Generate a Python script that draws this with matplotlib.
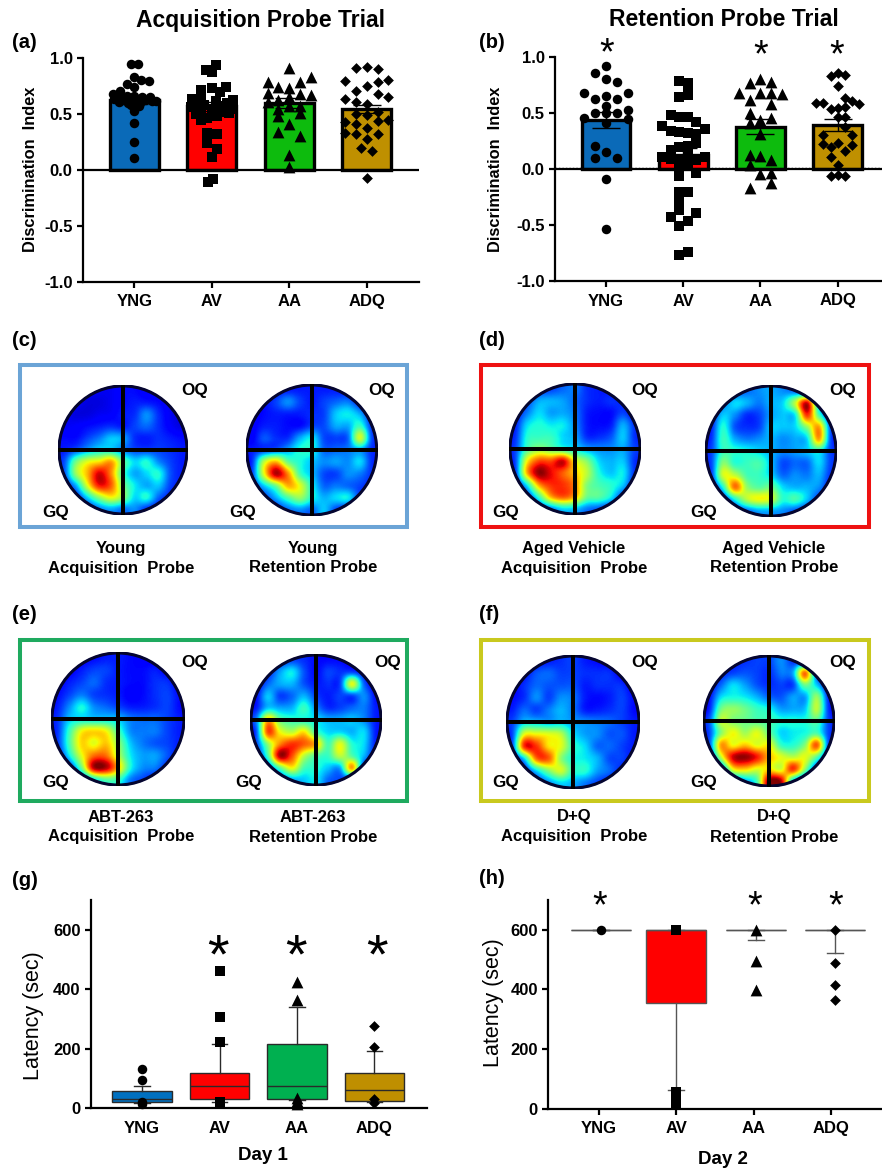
"""Morris water maze figure: probe-trial bars, heat maps and latency box plots."""

import numpy as np
import matplotlib
matplotlib.use("Agg")
import matplotlib.pyplot as plt
from matplotlib.patches import Circle, Rectangle

W, H = 882, 1171
plt.rcParams["font.family"] = ["Liberation Sans", "DejaVu Sans"]

GROUPS = ["YNG", "AV", "AA", "ADQ"]
MARKERS = ["o", "s", "^", "D"]
MARKER_S = [47, 49, 72, 30]

# panel (a) discrimination index: values and swarm offsets (category units)
A_YNG = [.95, .95, .83, .81, .80, .77, .74, .71, .68, .67, .66, .66, .65, .65, .64, .64, .63, .63, .62, .62, .61, .60, .60, .58, .57, .53, .42, .255, .11]
A_YNG_DX = [-.04, .05, 0, .09, .19, -.1, 0, -.19, -.28, -.2, -.1, 0, .1, .2, -.26, -.13, .05, .14, .28, .23, -.2, -.08, .08, -.04, .06, 0, 0, 0, 0]
A_AV = [.94, .895, .88, .74, .73, .72, .70, .64, .63, .66, .62, .60, .60, .58, .57, .56, .55, .55, .53, .52, .51, .50, .48, .47, .45, .335, .32, .245, .19, .12, -.085, -.11]
A_AV_DX = [.06, -.07, 0, .19, 0, -.14, .1, -.26, .28, -.14, .06, -.2, .2, -.1, .1, -.27, .28, 0, -.14, .14, .22, -.2, .07, -.06, -.14, -.06, .07, -.06, .07, 0, .02, -.05]
A_AA = [.91, .83, .79, .785, .74, .73, .69, .68, .67, .65, .63, .61, .57, .57, .55, .51, .48, .41, .34, .30, .135, .03]
A_AA_DX = [0, .28, .14, -.28, -.14, 0, -.28, .14, .28, 0, -.14, -.28, 0, .14, -.14, .14, -.14, 0, -.14, .14, 0, 0]
A_ADQ = [.925, .91, .90, .80, .805, .79, .755, .71, .68, .64, .65, .61, .59, .52, .50, .49, .43, .45, .44, .41, .38, .33, .32, .32, .28, .195, .17, -.07]
A_ADQ_DX = [0, -.14, .14, -.28, .27, .14, 0, -.14, .14, -.28, .27, -.14, 0, .14, -.14, 0, -.28, .27, .14, -.14, 0, -.28, -.14, .14, 0, -.07, .07, 0]
A_MEAN = [.625, .57, .60, .545]
A_SEM = [.035, .04, .045, .035]

# panel (b)
B_YNG = [.92, .86, .81, .78, .68, .68, .655, .625, .625, .565, .53, .50, .50, .50, .455, .445, .41, .21, .15, .10, .10, -.09, -.535]
B_YNG_DX = [0, -.14, 0, .14, -.28, .28, 0, -.14, .14, 0, .28, -.14, .14, 0, -.28, .28, 0, -.14, 0, .14, -.14, 0, 0]
B_AV = [.79, .77, .70, .645, .665, .485, .47, .465, .42, .39, .36, .34, .33, .32, .31, .23, .20, .17, .21, .11, .11, .13, .08, .09, .06, -.01, .04, -.035, -.06, -.2, -.2, -.275, -.365, -.43, -.395, -.46, -.51, -.765, -.745]
B_AV_DX = [-.06, .06, .06, -.06, .06, -.16, -.06, .06, .17, -.28, .28, -.16, -.06, .06, .17, .17, -.06, -.16, .06, -.28, .28, .06, .17, -.16, -.06, -.06, .06, .17, -.06, -.06, .06, -.06, -.06, -.16, .17, .06, -.06, -.06, .06]
B_AA = [.81, .77, .775, .68, .68, .68, .675, .62, .585, .505, .455, .44, .41, .315, .13, .12, .08, .04, -.045, -.03, -.125, -.17]
B_AA_DX = [0, -.14, .14, -.28, 0, .14, .28, -.14, .14, -.14, .14, 0, -.14, 0, -.14, 0, .14, -.14, 0, .14, .14, -.14]
B_ADQ = [.86, .835, .84, .745, .64, .59, .59, .605, .585, .555, .535, .545, .465, .465, .375, .305, .305, .225, .20, .23, .215, .165, .105, .04, -.05, -.065, -.06]
B_ADQ_DX = [0, -.09, .09, 0, .09, -.28, -.19, .18, .27, .09, -.09, 0, 0, .09, .09, -.19, .18, -.19, -.09, 0, .18, .09, -.09, 0, 0, -.09, .09]
B_MEAN = [.44, .13, .38, .395]
B_SEM = [.075, .06, .065, .055]

# panels (g), (h): latency box statistics
G_Q1 = [22, 30, 32, 26]
G_MED = [32, 74, 74, 60]
G_Q3 = [59, 120, 216, 118]
G_LO = [19, 22, 28, 22]
G_HI = [76, 216, 342, 194]
G_OUT = [[131, 95, 15, 20], [460, 308, 222, 22, 13], [425, 364, 33, 24, 15], [278, 205, 30, 19]]
H_Q1 = [600, 356, 600, 600]
H_MED = [600, 600, 600, 600]
H_Q3 = [600, 600, 600, 600]
H_LO = [600, 63, 566, 523]
H_HI = [600, 600, 600, 600]
H_OUT = [[600], [600, 55, 42, 30, 20, 12], [600, 497, 398], [600, 488, 415, 363]]

# heat maps: jet level (percent) on a coarse grid, read row by row from the top
C1 = [[5, 5, 5, 5, 5, 8, 8, 5, 5, 5, 5],
      [5, 5, 3, 3, 5, 8, 10, 10, 8, 5, 5],
      [5, 3, 3, 5, 6, 10, 12, 22, 12, 5, 3],
      [5, 6, 8, 10, 12, 10, 14, 18, 12, 6, 3],
      [8, 8, 14, 20, 28, 25, 12, 10, 12, 10, 8],
      [10, 16, 25, 32, 32, 22, 15, 14, 14, 12, 10],
      [15, 45, 60, 65, 72, 45, 30, 35, 22, 14, 10],
      [15, 50, 70, 92, 75, 40, 25, 30, 35, 16, 10],
      [10, 25, 60, 88, 80, 48, 32, 25, 28, 14, 10],
      [5, 10, 30, 50, 62, 50, 30, 35, 18, 10, 5],
      [5, 5, 10, 20, 25, 20, 22, 12, 8, 5, 5]]
C2 = [[5, 5, 8, 10, 10, 10, 10, 10, 8, 5, 5],
      [5, 8, 14, 22, 14, 10, 14, 18, 20, 10, 5],
      [5, 8, 10, 10, 10, 12, 14, 28, 32, 25, 8],
      [6, 10, 10, 8, 8, 14, 15, 25, 25, 38, 12],
      [6, 16, 12, 12, 25, 32, 15, 14, 18, 58, 15],
      [10, 14, 18, 25, 35, 35, 18, 18, 20, 25, 12],
      [12, 55, 70, 45, 35, 28, 22, 24, 22, 30, 12],
      [14, 60, 95, 75, 40, 28, 15, 14, 22, 20, 12],
      [12, 28, 45, 70, 60, 35, 18, 20, 18, 14, 10],
      [5, 12, 25, 40, 50, 35, 26, 30, 32, 12, 5],
      [5, 5, 10, 18, 22, 18, 28, 14, 8, 5, 5]]
D1 = [[5, 8, 12, 14, 18, 20, 12, 10, 8, 5, 5],
      [6, 14, 25, 26, 24, 18, 12, 10, 12, 10, 5],
      [8, 20, 30, 24, 25, 20, 10, 8, 8, 14, 6],
      [10, 30, 35, 32, 32, 22, 10, 8, 10, 25, 12],
      [12, 35, 38, 38, 30, 25, 12, 12, 16, 28, 12],
      [14, 40, 50, 45, 38, 32, 25, 22, 22, 25, 14],
      [14, 62, 82, 82, 92, 62, 48, 30, 26, 28, 12],
      [12, 70, 98, 90, 80, 68, 55, 35, 28, 32, 12],
      [8, 32, 72, 85, 85, 75, 48, 40, 36, 28, 8],
      [5, 12, 38, 70, 80, 70, 45, 42, 32, 12, 5],
      [5, 5, 12, 20, 30, 28, 20, 16, 10, 5, 5]]
D2 = [[5, 8, 14, 18, 22, 25, 22, 18, 10, 5, 5],
      [6, 18, 30, 26, 20, 26, 30, 55, 92, 25, 5],
      [8, 28, 22, 12, 14, 24, 28, 32, 85, 40, 8],
      [10, 35, 16, 12, 14, 28, 28, 30, 50, 72, 15],
      [12, 38, 25, 20, 22, 26, 22, 25, 30, 72, 15],
      [14, 38, 36, 34, 30, 26, 22, 24, 28, 35, 14],
      [14, 48, 36, 38, 40, 28, 15, 18, 18, 30, 14],
      [12, 58, 55, 40, 38, 30, 18, 22, 20, 26, 12],
      [8, 35, 78, 50, 42, 45, 30, 26, 26, 22, 8],
      [5, 12, 35, 55, 62, 58, 36, 40, 28, 12, 5],
      [5, 5, 12, 18, 25, 25, 22, 16, 10, 5, 5]]
E1 = [[5, 5, 6, 8, 10, 10, 8, 6, 5, 5, 5],
      [5, 6, 10, 14, 14, 10, 8, 8, 10, 6, 5],
      [6, 10, 14, 18, 12, 10, 8, 8, 12, 12, 5],
      [8, 14, 20, 14, 12, 10, 6, 8, 12, 14, 8],
      [10, 22, 34, 22, 18, 14, 10, 10, 12, 14, 8],
      [12, 28, 32, 30, 30, 28, 20, 18, 18, 14, 10],
      [12, 38, 62, 66, 62, 40, 22, 20, 20, 14, 10],
      [12, 40, 66, 60, 68, 50, 28, 20, 16, 14, 10],
      [8, 32, 60, 78, 78, 55, 32, 24, 24, 16, 8],
      [5, 12, 45, 95, 95, 68, 34, 22, 20, 10, 5],
      [5, 5, 12, 30, 42, 38, 20, 14, 8, 5, 5]]
E2 = [[5, 6, 10, 14, 12, 8, 8, 8, 6, 5, 5],
      [5, 10, 24, 32, 16, 8, 14, 12, 14, 8, 5],
      [6, 18, 25, 26, 16, 10, 12, 14, 60, 18, 5],
      [8, 28, 14, 18, 26, 14, 10, 14, 14, 22, 8],
      [10, 28, 25, 26, 38, 22, 12, 14, 18, 20, 10],
      [20, 70, 45, 38, 36, 32, 26, 26, 28, 22, 10],
      [15, 82, 62, 55, 65, 40, 30, 30, 26, 30, 10],
      [14, 50, 75, 85, 80, 70, 40, 60, 36, 30, 10],
      [8, 40, 96, 82, 55, 42, 38, 55, 42, 26, 8],
      [5, 15, 42, 62, 40, 36, 28, 25, 72, 12, 5],
      [5, 5, 14, 24, 28, 32, 18, 14, 8, 5, 5]]
F1 = [[5, 5, 8, 10, 12, 14, 10, 8, 6, 5, 5],
      [5, 8, 16, 18, 14, 14, 12, 12, 12, 6, 5],
      [6, 12, 18, 16, 16, 16, 10, 12, 12, 12, 5],
      [8, 12, 22, 14, 22, 20, 10, 8, 10, 14, 8],
      [10, 18, 14, 20, 26, 20, 10, 10, 12, 14, 8],
      [14, 28, 28, 25, 28, 24, 22, 20, 18, 14, 10],
      [14, 60, 62, 60, 55, 32, 24, 22, 16, 16, 10],
      [14, 85, 85, 65, 60, 38, 30, 18, 18, 14, 10],
      [8, 30, 78, 80, 50, 35, 32, 26, 15, 14, 8],
      [5, 10, 30, 48, 58, 38, 36, 24, 18, 10, 5],
      [5, 5, 12, 22, 30, 26, 20, 14, 8, 5, 5]]
F2 = [[5, 6, 10, 12, 14, 14, 22, 12, 8, 5, 5],
      [5, 10, 14, 16, 14, 12, 20, 25, 78, 14, 5],
      [6, 18, 30, 24, 16, 12, 14, 14, 45, 28, 5],
      [8, 30, 34, 32, 26, 18, 16, 24, 24, 50, 10],
      [10, 45, 50, 45, 38, 34, 24, 25, 28, 55, 12],
      [16, 55, 48, 45, 42, 40, 35, 35, 35, 42, 14],
      [14, 48, 62, 52, 60, 45, 30, 32, 34, 40, 14],
      [14, 72, 62, 68, 60, 62, 38, 36, 48, 80, 14],
      [8, 55, 92, 98, 88, 70, 60, 55, 60, 42, 8],
      [5, 15, 62, 68, 60, 65, 58, 85, 50, 12, 5],
      [5, 5, 14, 25, 40, 98, 95, 30, 8, 5, 5]]

BAR_COLORS = ["#0a6ab8", "#ff0000", "#0dbb0d", "#bf9000"]
BOX_COLORS = ["#0070c0", "#ff0000", "#00b050", "#bf8f00"]

fig = plt.figure(figsize=(W / 100, H / 100), dpi=100, facecolor="white")

# overlay in pixel coordinates, for frames and free text
page = fig.add_axes([0, 0, 1, 1], zorder=5)
page.set_xlim(0, W)
page.set_ylim(H, 0)
page.axis("off")
page.patch.set_alpha(0)


def label(x, y, s, size=12, weight="bold", **kw):
    page.text(x, y, s, fontsize=size, fontweight=weight, ha="center", va="center", **kw)


def chart_axes(left, right, top, bottom, x0, x3, ylim):
    ax = fig.add_axes([left / W, 1 - bottom / H, (right - left) / W, (bottom - top) / H])
    step = (x3 - x0) / 3
    ax.set_xlim((left - x0) / step, (right - x0) / step)
    ax.set_ylim(*ylim)
    for s in ("top", "right"):
        ax.spines[s].set_visible(False)
    for s in ("left", "bottom"):
        ax.spines[s].set_linewidth(1.6)
    ax.tick_params(width=1.6, length=4.5)
    ax.patch.set_alpha(0)
    ax.set_xticks(range(4))
    ax.set_xticklabels(GROUPS, fontsize=12, fontweight="bold")
    ax.tick_params(axis="x", pad=4.5)
    ax.tick_params(axis="y", pad=3, labelsize=12)
    return ax


def bar_panel(ax, means, sems, swarms):
    ax.set_yticks([-1, -.5, 0, .5, 1])
    ax.set_yticklabels(["-1.0", "-0.5", "0.0", "0.5", "1.0"], fontweight="bold", fontsize=12)
    ax.bar(range(4), means, width=.63, color=BAR_COLORS, edgecolor="black", linewidth=2.4, zorder=2)
    ax.errorbar(range(4), means, yerr=sems, fmt="none", ecolor="black", elinewidth=1,
                capsize=10, capthick=1, zorder=3)
    for i, (vals, dx) in enumerate(swarms):
        ax.scatter(np.array(dx) + i, vals, marker=MARKERS[i], s=MARKER_S[i], color="black",
                   linewidths=0, zorder=4, clip_on=False)
    ax.axhline(0, color="black", lw=1.6, zorder=5)


ax_a = chart_axes(83, 419, 58.3, 281.7, 134.3, 366.7, (-1, 1))
bar_panel(ax_a, A_MEAN, A_SEM, [(A_YNG, A_YNG_DX), (A_AV, A_AV_DX), (A_AA, A_AA_DX), (A_ADQ, A_ADQ_DX)])

ax_b = chart_axes(555, 882, 57.3, 281, 606, 837.7, (-1, 1))
bar_panel(ax_b, B_MEAN, B_SEM, [(B_YNG, B_YNG_DX), (B_AV, B_AV_DX), (B_AA, B_AA_DX), (B_ADQ, B_ADQ_DX)])
ax_b.axhline(.012, color="black", lw=1, ls=(0, (1, 1.5)), zorder=1)


def box_panel(ax, q1, med, q3, lo, hi, outliers, positions, line, cap_w):
    ax.set_yticks([0, 200, 400, 600])
    ax.set_yticklabels(["0", "200", "400", "600"], fontweight="bold", fontsize=12)
    stats = [dict(med=med[i], q1=q1[i], q3=q3[i], whislo=lo[i], whishi=hi[i], fliers=[]) for i in range(4)]
    parts = ax.bxp(stats, positions=positions, widths=.77, patch_artist=True, showfliers=False,
                   manage_ticks=False, capwidths=cap_w,
                   medianprops=dict(color=line, lw=1), whiskerprops=dict(color=line, lw=1),
                   capprops=dict(color=line, lw=1), boxprops=dict(edgecolor=line, lw=1), zorder=2)
    for box, c in zip(parts["boxes"], BOX_COLORS):
        box.set_facecolor(c)
    for i, vals in enumerate(outliers):
        ax.scatter([positions[i]] * len(vals), vals, marker=MARKERS[i], s=MARKER_S[i], color="black",
                   linewidths=0, zorder=4, clip_on=False)


ax_g = chart_axes(91, 427, 900, 1108.3, 142, 374.5, (0, 700))
box_panel(ax_g, G_Q1, G_MED, G_Q3, G_LO, G_HI, G_OUT, [0, 1, 2, 3], "#2a2a2a", .2)
ax_g.tick_params(axis="x", length=0, pad=9)

ax_h = chart_axes(548.3, 882, 900, 1108.7, 598.7, 831, (0, 700))
box_panel(ax_h, H_Q1, H_MED, H_Q3, H_LO, H_HI, H_OUT, [.03, 1, 2.03, 3.05], "#555555", .2)

# heat map frames
FRAMES = [(20, 365, 407, 527, "#6ba4d6"), (481, 365, 869, 527, "#ee1111"),
          (20, 640, 407, 801, "#1faa5f"), (481, 640, 869, 801, "#c9c91e")]
for x0, y0, x1, y1, c in FRAMES:
    page.add_patch(Rectangle((x0, y0), x1 - x0, y1 - y0, fill=False, edgecolor=c, lw=2.9))


def heat_map(grid, cx, cy, r):
    ax = fig.add_axes([(cx - r) / W, 1 - (cy + r) / H, 2 * r / W, 2 * r / H])
    ax.axis("off")
    # vmin below zero lifts the blues a little towards the cyan of the reference
    im = ax.imshow(np.array(grid) / 100, cmap="jet", vmin=-.06, vmax=1, extent=(-1, 1, -1, 1),
                   interpolation="catrom")
    disc = Circle((0, 0), 1, transform=ax.transData)
    im.set_clip_path(disc)
    ax.add_patch(Circle((0, 0), .985, fill=False, edgecolor="#05052e", lw=2.2))
    ax.plot([-1.0, 1.0], [0, 0], color="black", lw=2.9, solid_capstyle="butt", clip_on=False)
    ax.plot([0, 0], [-1.0, 1.0], color="black", lw=2.9, solid_capstyle="butt", clip_on=False)


heat_map(C1, 123, 450, 65)
heat_map(C2, 311.7, 450, 66)
heat_map(D1, 575, 449, 66)
heat_map(D2, 771, 451, 66)
heat_map(E1, 118, 719, 67)
heat_map(E2, 316, 720, 66)
heat_map(F1, 573, 722, 67)
heat_map(F2, 769, 721, 66)

for x, y in [(195, 391), (382, 391), (645, 391), (843, 391), (195, 663), (388, 663), (645, 663), (843, 663)]:
    label(x, y, "OQ", size=12.3)
for x, y in [(56, 512), (243, 512), (506, 512), (704, 512), (56, 783), (249, 783), (506, 783), (704, 783)]:
    label(x, y, "GQ", size=12.3)

CAPTIONS = [(121, 548, "Young", "Acquisition  Probe"), (313, 548, "Young", "Retention Probe"),
            (574, 548, "Aged Vehicle", "Acquisition  Probe"), (774, 548, "Aged Vehicle", "Retention Probe"),
            (121, 817, "ABT-263", "Acquisition  Probe"), (313, 817, "ABT-263", "Retention Probe"),
            (574, 817, "D+Q", "Acquisition  Probe"), (774, 817, "D+Q", "Retention Probe")]
for x, y, top_line, bottom_line in CAPTIONS:
    label(x, y, top_line)
    label(x, y + 20, bottom_line)

for x, y, s in [(12, 43, "(a)"), (479, 43, "(b)"), (12, 340, "(c)"), (479, 340, "(d)"),
                (12, 615, "(e)"), (479, 615, "(f)"), (12, 880, "(g)"), (479, 879, "(h)")]:
    page.text(x, y, s, fontsize=14.5, fontweight="bold", ha="left", va="center")

label(261, 20, "Acquisition Probe Trial", size=16.5)
label(724, 20, "Retention Probe Trial", size=16.5)
label(263, 1156, "Day 1", size=13.5)
label(723, 1160, "Day 2", size=13.5)
label(31, 169, "Discrimination  Index", size=11.8, rotation=90)
label(496, 169, "Discrimination  Index", size=11.8, rotation=90)
label(33, 1016, "Latency (sec)", size=15.5, weight="normal", rotation=90)
label(493, 1003, "Latency (sec)", size=15.5, weight="normal", rotation=90)

# significance stars
for x, y in [(607, 54), (761, 56), (837, 56), (600, 907), (755, 907), (836, 907)]:
    label(x, y, "*", size=27, weight="normal")
for x, y in [(218, 958), (296, 958), (377, 958)]:
    label(x, y, "*", size=40, weight="normal")

fig.savefig("out.png", dpi=100)
